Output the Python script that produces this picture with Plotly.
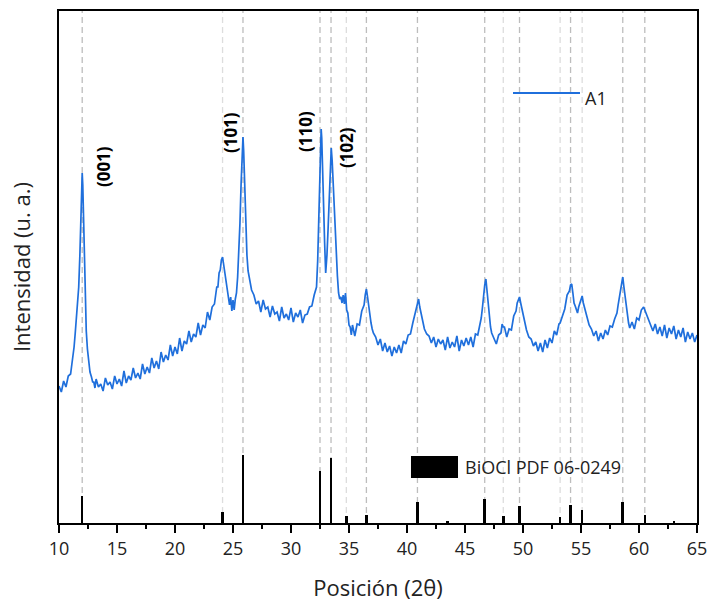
import plotly.graph_objects as go

# ---------------- data ----------------
two_theta = [10.0, 10.2, 10.4, 10.6, 10.8, 11.0, 11.1, 11.2, 11.3, 11.4, 11.5, 11.6, 11.7, 11.8, 11.9, 11.95, 12.0, 12.05, 12.1, 12.15,
             12.2, 12.27, 12.35, 12.45, 12.55, 12.67, 12.8, 12.9, 13.0, 13.1, 13.2, 13.4, 13.6, 13.8, 14.0, 14.2, 14.4, 14.6, 14.8, 15.0,
             15.2, 15.4, 15.6, 15.8, 16.0, 16.2, 16.4, 16.6, 16.8, 17.0, 17.2, 17.4, 17.6, 17.8, 18.0, 18.2, 18.4, 18.6, 18.8, 19.0,
             19.2, 19.4, 19.6, 19.8, 20.0, 20.2, 20.4, 20.6, 20.8, 21.0, 21.2, 21.4, 21.6, 21.8, 22.0, 22.2, 22.4, 22.6, 22.8, 23.0,
             23.2, 23.4, 23.6, 23.7, 23.8, 23.9, 24.0, 24.1, 24.2, 24.3, 24.4, 24.5, 24.6, 24.7, 24.8, 24.9, 25.0, 25.1, 25.2, 25.3,
             25.4, 25.5, 25.6, 25.7, 25.8, 25.86, 25.92, 26.0, 26.1, 26.2, 26.3, 26.4, 26.5, 26.6, 26.8, 27.0, 27.2, 27.4, 27.6, 27.8,
             28.0, 28.2, 28.4, 28.6, 28.8, 29.0, 29.2, 29.4, 29.6, 29.8, 30.0, 30.2, 30.4, 30.6, 30.8, 31.0, 31.2, 31.4, 31.6, 31.8,
             32.0, 32.2, 32.3, 32.4, 32.5, 32.6, 32.65, 32.7, 32.8, 32.9, 32.99, 33.1, 33.2, 33.3, 33.4, 33.47, 33.55, 33.65, 33.75, 33.85,
             34.0, 34.1, 34.2, 34.3, 34.4, 34.5, 34.6, 34.7, 34.8, 34.9, 35.0, 35.1, 35.2, 35.3, 35.5, 35.7, 35.9, 36.1, 36.3, 36.4,
             36.5, 36.6, 36.7, 36.8, 36.9, 37.0, 37.1, 37.3, 37.5, 37.7, 37.9, 38.1, 38.3, 38.5, 38.7, 38.9, 39.1, 39.3, 39.5, 39.7,
             39.9, 40.1, 40.3, 40.5, 40.6, 40.7, 40.8, 40.9, 41.0, 41.1, 41.2, 41.3, 41.4, 41.5, 41.7, 41.9, 42.1, 42.3, 42.5, 42.7,
             42.9, 43.1, 43.3, 43.5, 43.7, 43.9, 44.1, 44.3, 44.5, 44.7, 44.9, 45.1, 45.3, 45.5, 45.7, 45.9, 46.1, 46.3, 46.4, 46.5,
             46.6, 46.7, 46.8, 46.9, 47.0, 47.1, 47.2, 47.3, 47.5, 47.7, 47.9, 48.1, 48.2, 48.3, 48.4, 48.6, 48.8, 49.0, 49.2, 49.4,
             49.5, 49.6, 49.7, 49.8, 49.9, 50.0, 50.1, 50.3, 50.5, 50.7, 50.9, 51.1, 51.3, 51.5, 51.7, 51.9, 52.1, 52.3, 52.5, 52.7,
             52.9, 53.1, 53.2, 53.4, 53.6, 53.8, 54.0, 54.1, 54.2, 54.3, 54.4, 54.5, 54.6, 54.7, 54.8, 54.9, 55.0, 55.1, 55.2, 55.3,
             55.5, 55.7, 55.9, 56.1, 56.3, 56.5, 56.7, 56.9, 57.1, 57.3, 57.5, 57.7, 57.9, 58.1, 58.2, 58.3, 58.4, 58.5, 58.6, 58.7,
             58.8, 58.9, 59.0, 59.1, 59.2, 59.4, 59.6, 59.8, 60.0, 60.2, 60.4, 60.6, 60.8, 61.0, 61.2, 61.4, 61.6, 61.8, 62.0, 62.2,
             62.4, 62.6, 62.8, 63.0, 63.2, 63.4, 63.6, 63.8, 64.0, 64.2, 64.4, 64.6, 64.8, 65.0]

intensity = [137, 131, 142, 136, 147, 149, 158, 165, 176, 190, 204, 218, 236, 268, 318, 340, 350, 338, 312, 280,
             248, 216, 192, 174, 160, 151, 146, 141, 141, 135, 144, 136, 139, 132, 145, 138, 141, 134, 147, 139,
             144, 137, 152, 140, 147, 143, 155, 145, 150, 144, 159, 149, 156, 150, 165, 155, 162, 154, 171, 161,
             168, 163, 178, 167, 176, 169, 185, 172, 182, 179, 192, 181, 189, 186, 200, 188, 198, 195, 211, 203,
             216, 219, 236, 236, 250, 253, 263, 266, 258, 250, 240, 232, 226, 218, 226, 212, 223, 213, 224, 230,
             246, 270, 300, 340, 375, 386, 372, 340, 292, 268, 252, 244, 236, 233, 228, 219, 222, 211, 223, 214,
             216, 206, 217, 209, 211, 202, 216, 205, 209, 203, 215, 201, 210, 206, 213, 200, 208, 209, 216, 217,
             228, 236, 262, 300, 355, 394, 385, 360, 322, 280, 250, 268, 295, 332, 362, 375, 362, 336, 305, 278,
             247, 230, 224, 226, 220, 228, 219, 230, 213, 210, 198, 196, 188, 198, 187, 199, 198, 212, 218, 228,
             234, 226, 215, 208, 200, 194, 190, 186, 178, 184, 172, 180, 171, 177, 167, 176, 170, 178, 170, 182,
             179, 188, 189, 200, 205, 210, 216, 221, 224, 216, 210, 204, 198, 194, 189, 187, 180, 186, 176, 184,
             179, 183, 173, 186, 175, 181, 176, 187, 172, 183, 177, 185, 178, 186, 176, 189, 188, 198, 205, 215,
             228, 238, 244, 232, 218, 206, 196, 190, 184, 179, 188, 190, 199, 196, 196, 186, 194, 193, 207, 212,
             220, 224, 226, 220, 214, 208, 203, 193, 186, 184, 177, 181, 172, 180, 171, 183, 175, 185, 180, 192,
             188, 199, 200, 208, 214, 228, 232, 238, 239, 230, 220, 217, 212, 210, 216, 220, 224, 227, 220, 215,
             207, 198, 194, 187, 192, 182, 190, 184, 193, 188, 197, 196, 204, 210, 218, 226, 234, 241, 246, 236,
             226, 216, 206, 200, 195, 201, 194, 205, 203, 213, 216, 209, 204, 198, 192, 199, 189, 196, 187, 198,
             185, 195, 189, 197, 184, 193, 186, 195, 181, 191, 184, 190, 181, 188]

# BiOCl PDF 06-0249 reference pattern
ref_pos = [12.0, 24.1, 25.86, 32.5, 33.45, 34.77, 36.5, 40.9, 43.5, 46.7, 48.3, 49.7, 53.2, 54.1, 55.1, 58.6, 60.5, 63.0]
ref_int = [40, 16, 100, 76, 95, 10, 12, 31, 2.5, 35, 11, 25, 9, 26, 19, 31, 12, 3]

# positions marked with dashed guide lines (lighter shade flag)
guide_pos = [12.0, 24.1, 25.86, 32.5, 33.45, 34.77, 36.5, 40.9, 46.7, 48.3, 49.7, 53.2, 54.1, 55.1, 58.6, 60.5]
guide_light = [False, True, False, False, False, True, False, False, False, True, False, True, False, True, False, False]

peak_labels = ["(001)", "(101)", "(110)", "(102)"]
peak_label_x = [13.8, 24.75, 31.2, 34.75]
peak_label_y = [356, 390, 392, 375]

x_ticks = [10, 15, 20, 25, 30, 35, 40, 45, 50, 55, 60, 65]

series_name = "A1"
ref_name = "BiOCl PDF 06-0249"

FONT = "Open Sans"
BLUE = "#1f6fdc"

fig = go.Figure()

fig.add_trace(go.Bar(
    x=ref_pos, y=ref_int, width=0.22, marker=dict(color="black", line=dict(width=0)),
    yaxis="y2", showlegend=False, name=ref_name,
))

fig.add_trace(go.Scatter(
    x=two_theta, y=intensity, mode="lines", line=dict(color=BLUE, width=1.7),
    showlegend=False, name=series_name,
))

shapes = []
for p, light in zip(guide_pos, guide_light):
    shapes.append(dict(type="line", xref="x", yref="paper", x0=p, x1=p, y0=0, y1=1,
                       line=dict(color="#dddddd" if light else "#bdbdbd", width=1.3, dash="6px,4px"),
                       layer="below"))

# manual legend: A1 line
shapes.append(dict(type="line", xref="paper", yref="paper", x0=0.7116, x1=0.8166, y0=0.8398, y1=0.8398,
                   line=dict(color=BLUE, width=2)))
# manual legend: reference block
shapes.append(dict(type="rect", xref="paper", yref="paper", x0=0.5517, x1=0.6254, y0=0.0879, y1=0.1309,
                   line=dict(width=0), fillcolor="black"))

annotations = []
for t, px, py in zip(peak_labels, peak_label_x, peak_label_y):
    annotations.append(dict(x=px, y=py, xref="x", yref="y", text="<b>%s</b>" % t, textangle=-90,
                            showarrow=False, font=dict(family=FONT, size=17, color="black")))
annotations.append(dict(x=0.822, y=0.830, xref="paper", yref="paper", text=series_name, xanchor="left",
                        yanchor="middle", showarrow=False, font=dict(family=FONT, size=18, color="#222")))
annotations.append(dict(x=0.634, y=0.109, xref="paper", yref="paper", text=ref_name, xanchor="left",
                        yanchor="middle", showarrow=False, font=dict(family=FONT, size=18, color="#222")))

fig.update_layout(
    width=707, height=605,
    margin=dict(l=59, r=10, t=11, b=82),
    paper_bgcolor="white", plot_bgcolor="white",
    font=dict(family=FONT, size=16, color="#222"),
    shapes=shapes, annotations=annotations,
    bargap=0,
    xaxis=dict(
        range=[10, 65], tickvals=x_ticks, ticks="outside", ticklen=8, tickwidth=2, tickcolor="black",
        minor=dict(dtick=2.5, tick0=10, ticks="outside", ticklen=4, tickwidth=2, tickcolor="black"),
        showline=True, linecolor="black", linewidth=2, mirror=True, showgrid=False, zeroline=False,
        automargin=False, ticklabeloverflow="allow",
        tickfont=dict(family=FONT, size=18, color="#222"),
        title=dict(text="Posición (2θ)", font=dict(family=FONT, size=22, color="#222"), standoff=22),
    ),
    yaxis=dict(
        range=[0, 512], showticklabels=False, ticks="", showline=True, linecolor="black", linewidth=2,
        mirror=True, showgrid=False, zeroline=False, automargin=False,
        title=dict(text="Intensidad (u. a.)", font=dict(family=FONT, size=22, color="#222"), standoff=20),
    ),
    yaxis2=dict(range=[0, 753], overlaying="y", visible=False),
)

fig.write_html("out.html")
